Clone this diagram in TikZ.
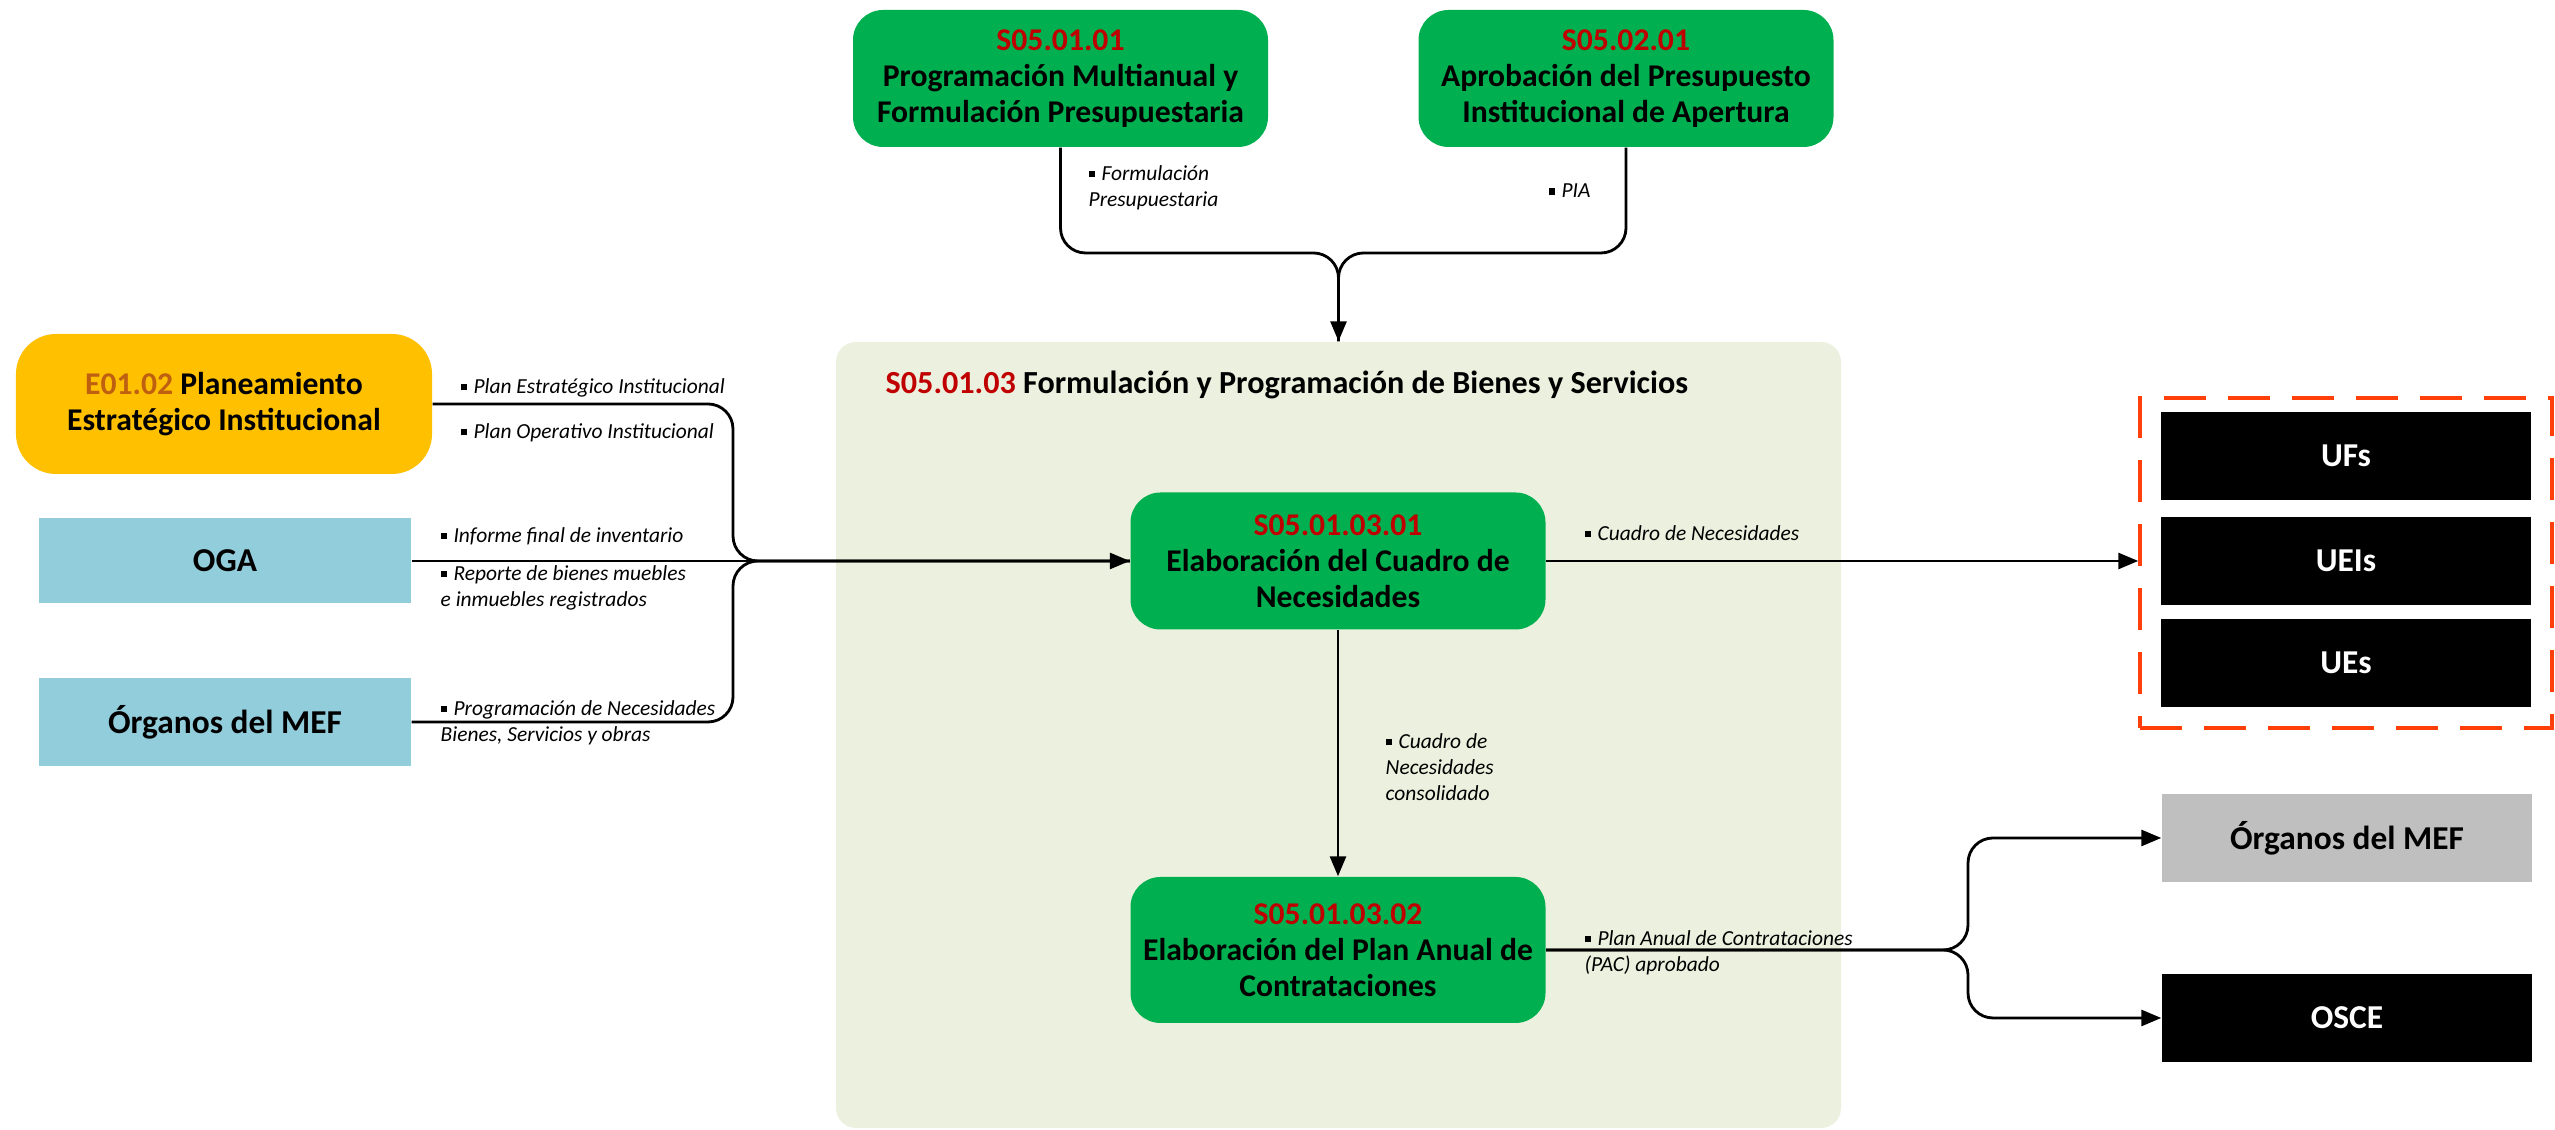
\documentclass[tikz,border=0pt]{standalone}
\usepackage{fontspec}
\setmainfont{Carlito}
\usepackage{tikz}
\usetikzlibrary{arrows.meta,positioning}

\definecolor{procgreen}{RGB}{0,176,80}
\definecolor{codered}{RGB}{192,0,0}
\definecolor{codebrown}{RGB}{191,96,16}
\definecolor{planyellow}{RGB}{255,192,0}
\definecolor{unitblue}{RGB}{146,205,220}
\definecolor{areagreen}{RGB}{235,241,222}
\definecolor{mefgray}{RGB}{191,191,191}
\definecolor{dashred}{RGB}{255,64,10}

\newcommand{\bul}{\raisebox{0.15em}{\rule{0.3em}{0.3em}}\hspace{0.3em}}

\tikzset{
  procbox/.style={fill=procgreen, rounded corners=3mm, minimum width=41.5mm,
    minimum height=13.7mm, align=center, inner sep=0pt,
    font=\fontsize{9}{10.2}\selectfont\bfseries},
  unitbox/.style={minimum width=37mm, minimum height=8.8mm, inner sep=0pt,
    font=\fontsize{9.5}{11}\selectfont\bfseries},
  lbl/.style={anchor=west, align=left, inner sep=0pt,
    font=\fontsize{6.1}{7.4}\selectfont\itshape},
  flow/.style={line width=0.8pt, rounded corners=2.5mm},
  arr/.style={-{Triangle[length=2mm,width=1.6mm]}}
}

\begin{document}
\begin{tikzpicture}[x=1mm,y=1mm]
    \useasboundingbox (0,0) rectangle (255.5,113);

    % draw area of S05.01.03
    \node[fill=areagreen, rounded corners=2mm, minimum width=100.5mm, minimum height=78.6mm, inner sep=0pt] (area) at (133.85,39.5) {};
    \node[anchor=west, inner sep=0pt, font=\fontsize{9.15}{10.2}\selectfont\bfseries] (areatitle) at (88.5,74.5)
        {{\color{codered}S05.01.03} Formulación y Programación de Bienes y Servicios};

    % draw process boxes
    \node[procbox] (pmf) at (106.05,105.15) {{\color{codered}S05.01.01}\\Programación Multianual y\\Formulación Presupuestaria};
    \node[procbox] (apia) at (162.6,105.15) {{\color{codered}S05.02.01}\\Aprobación del Presupuesto\\Institucional de Apertura};
    \node[procbox] (cuadro) at (133.8,56.9) {{\color{codered}S05.01.03.01}\\Elaboración del Cuadro de\\Necesidades};
    \node[procbox, minimum height=14.6mm] (pac) at (133.8,18.0) {{\color{codered}S05.01.03.02}\\Elaboración del Plan Anual de\\Contrataciones};

    % draw input boxes
    \node[procbox, fill=planyellow, rounded corners=4mm, minimum width=41.6mm, minimum height=14mm] (pei) at (22.4,72.6)
        {{\color{codebrown}E01.02} Planeamiento\\Estratégico Institucional};
    \node[unitbox, fill=unitblue, minimum width=37.2mm, minimum height=8.5mm] (oga) at (22.5,56.9) {OGA};
    \node[unitbox, fill=unitblue, minimum width=37.2mm] (orgin) at (22.5,40.8) {Órganos del MEF};

    % draw output boxes
    \node[draw=dashred, line width=1pt, dash pattern=on 4.2mm off 2.2mm, minimum width=41.2mm, minimum height=33mm, inner sep=0pt] (dest) at (234.6,56.7) {};
    \node[unitbox, fill=black, text=white] (ufs) at (234.6,67.4) {UFs};
    \node[unitbox, fill=black, text=white] (ueis) at (234.6,56.9) {UEIs};
    \node[unitbox, fill=black, text=white] (ues) at (234.6,46.7) {UEs};
    \node[unitbox, fill=mefgray] (orgout) at (234.7,29.2) {Órganos del MEF};
    \node[unitbox, fill=black, text=white] (osce) at (234.7,11.2) {OSCE};

    % draw connectors
    \coordinate (jtop) at (133.85,87.7);
    \coordinate (jin) at (73.3,56.9);
    \coordinate (jout) at (196.8,18.0);

    \draw[flow] (pmf.south) |- (jtop) -- (area.north);
    \draw[flow, arr] (apia.south) |- (jtop) -- (area.north);

    \draw[flow] (pei.east) -| (jin) -- (cuadro.west);
    \draw[flow] (orgin.east) -| (jin) -- (cuadro.west);
    \draw[flow, arr] (oga.east) -- (cuadro.west);

    \draw[flow, arr] (cuadro.east) -- (cuadro.east -| dest.west);
    \draw[flow, arr] (cuadro.south) -- (pac.north);

    \draw[flow, arr] (pac.east) -- (jout) |- (orgout.west);
    \draw[flow, arr] (pac.east) -- (jout) |- (osce.west);

    % draw labels
    \node[lbl] (lblfp) at (108.8,94.2) {\bul Formulación\\Presupuestaria};
    \node[lbl] (lblpia) at (154.8,93.9) {\bul PIA};
    \node[lbl] (lblpe) at (46.0,74.2) {\bul Plan Estratégico Institucional};
    \node[lbl] (lblpo) at (46.0,69.7) {\bul Plan Operativo Institucional};
    \node[lbl] (lblinf) at (44.0,59.4) {\bul Informe final de inventario};
    \node[lbl] (lblrep) at (44.0,54.2) {\bul Reporte de bienes muebles\\e inmuebles registrados};
    \node[lbl] (lblprog) at (44.0,40.7) {\bul Programación de Necesidades\\Bienes, Servicios y obras};
    \node[lbl] (lblcn) at (158.4,59.7) {\bul Cuadro de Necesidades};
    \node[lbl] (lblcnc) at (138.5,36.3) {\bul Cuadro de\\Necesidades\\consolidado};
    \node[lbl] (lblpac) at (158.4,17.7) {\bul Plan Anual de Contrataciones\\(PAC) aprobado};

\end{tikzpicture}
\end{document}
